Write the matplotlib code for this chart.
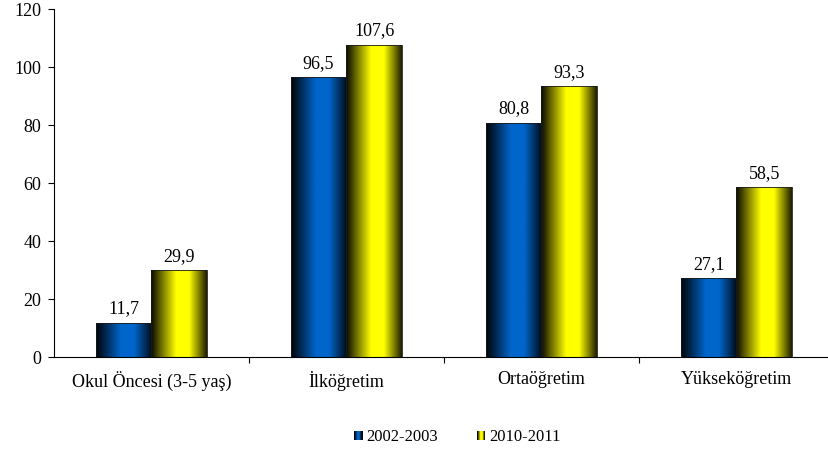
import numpy as np
import matplotlib
matplotlib.use("Agg")
import matplotlib.pyplot as plt
from matplotlib.patches import Rectangle
from matplotlib.legend_handler import HandlerBase

categories = ["Okul Öncesi (3-5 yaş)", "İlköğretim", "Ortaöğretim", "Yükseköğretim"]
series_names = ["2002-2003", "2010-2011"]
values_2002 = [11.7, 96.5, 80.8, 27.1]
values_2010 = [29.9, 107.6, 93.3, 58.5]

base_colors = [(0.0, 0.40, 0.80), (1.0, 1.0, 0.0)]

plt.rcParams['font.family'] = ['Liberation Serif', 'DejaVu Serif']
plt.rcParams['font.size'] = 13


def shade_profile(n):
    # dark at the edges, bright slightly left of middle
    t = np.linspace(0, 1, n)
    return np.interp(t, [0.0, 0.45, 0.68, 1.0], [0.03, 1.0, 1.0, 0.12])


def gradient_image(color, n=128):
    s = shade_profile(n)
    img = np.zeros((1, n, 3))
    for k in range(3):
        img[0, :, k] = color[k] * s
    return img


class GradientHandler(HandlerBase):
    def __init__(self, color):
        super().__init__()
        self.color = color

    def create_artists(self, legend, orig_handle, xdescent, ydescent,
                       width, height, fontsize, trans):
        arts = []
        w = height * 0.7
        x0 = -xdescent + (width - w) / 2
        n = 8
        s = shade_profile(n)
        for i in range(n):
            c = tuple(self.color[k] * s[i] for k in range(3))
            arts.append(Rectangle((x0 + i * w / n, -ydescent + height * 0.05), w / n + 0.05, height * 0.8,
                                  facecolor=c, edgecolor='none', transform=trans))
        return arts


fig = plt.figure(figsize=(8.29, 4.59), dpi=100)
ax = fig.add_axes([54 / 829, 1 - 357 / 459, 780 / 829, (357 - 9) / 459])

x = np.arange(len(categories))
width = 0.287
bars_a = ax.bar(x - width / 2, values_2002, width, color='none', edgecolor='none')
bars_b = ax.bar(x + width / 2, values_2010, width, color='none', edgecolor='none')

for bars, col, vals in [(bars_a, base_colors[0], values_2002), (bars_b, base_colors[1], values_2010)]:
    img = gradient_image(col)
    for b, v in zip(bars, vals):
        bx, by = b.get_x(), b.get_y()
        bw, bh = b.get_width(), b.get_height()
        im = ax.imshow(img, extent=[bx, bx + bw, by, by + bh], aspect='auto',
                       interpolation='bilinear', zorder=2)
        im.set_clip_path(b)
        ax.add_patch(Rectangle((bx, by), bw, bh, fill=False, edgecolor=(0.1, 0.1, 0.1),
                               linewidth=0.6, zorder=3))
        ax.annotate(f"{v:.1f}".replace(".", ","), (bx + bw / 2, by + bh),
                    xytext=(0, 4), textcoords='offset points', ha='center', va='bottom')

ax.set_xlim(-0.5, 3.5)
ax.set_ylim(0, 120)
ax.set_yticks(range(0, 121, 20))
ax.set_xticks([0.5, 1.5, 2.5, 3.5])
ax.set_xticklabels([])
ax.set_xticks(x, minor=True)
ax.set_xticklabels(categories, minor=True)
ax.tick_params(axis='x', which='minor', length=0, pad=10)
ax.tick_params(axis='both', which='major', length=4, width=0.8, direction='out')
ax.tick_params(axis='y', pad=5)
ax.spines['top'].set_visible(False)
ax.spines['right'].set_visible(False)
ax.spines['left'].set_linewidth(0.8)
ax.spines['bottom'].set_linewidth(0.8)

h1 = Rectangle((0, 0), 1, 1)
h2 = Rectangle((0, 0), 1, 1)
fig.legend([h1, h2], series_names, loc='center', bbox_to_anchor=(457 / 829, 1 - 437 / 459),
           ncol=2, frameon=False, fontsize=12, handlelength=0.6, handletextpad=0.2,
           columnspacing=2.25,
           handler_map={h1: GradientHandler(base_colors[0]), h2: GradientHandler(base_colors[1])})

fig.savefig("out.png", dpi=100)
